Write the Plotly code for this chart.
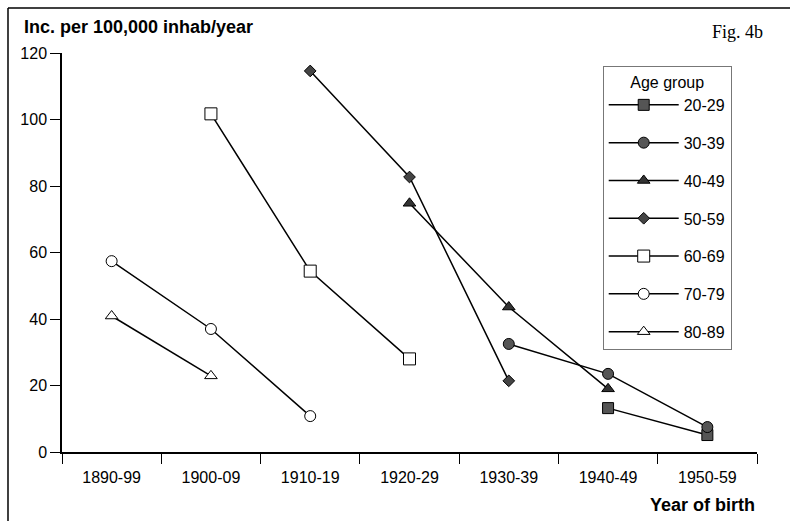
import plotly.graph_objects as go

categories = ["1890-99", "1900-09", "1910-19", "1920-29", "1930-39", "1940-49", "1950-59"]

groups = ["20-29", "30-39", "40-49", "50-59", "60-69", "70-79", "80-89"]
x_20_29 = ["1940-49", "1950-59"]
y_20_29 = [13.2, 5.1]
x_30_39 = ["1930-39", "1940-49", "1950-59"]
y_30_39 = [32.5, 23.5, 7.5]
x_40_49 = ["1920-29", "1930-39", "1940-49"]
y_40_49 = [74.8, 43.6, 19.0]
x_50_59 = ["1910-19", "1920-29", "1930-39"]
y_50_59 = [114.6, 82.7, 21.4]
x_60_69 = ["1900-09", "1910-19", "1920-29"]
y_60_69 = [101.7, 54.4, 28.0]
x_70_79 = ["1890-99", "1900-09", "1910-19"]
y_70_79 = [57.4, 37.0, 10.8]
x_80_89 = ["1890-99", "1900-09"]
y_80_89 = [40.9, 22.9]

series_x = [x_20_29, x_30_39, x_40_49, x_50_59, x_60_69, x_70_79, x_80_89]
series_y = [y_20_29, y_30_39, y_40_49, y_50_59, y_60_69, y_70_79, y_80_89]
symbols = ["square", "circle", "triangle-up", "diamond", "square", "circle", "triangle-up"]
sizes = [11, 11, 11, 9, 12, 11, 11]
fills = ["#555555", "#555555", "#333333", "#444444", "white", "white", "white"]

fig = go.Figure()
for g, xs, ys, sym, sz, fc in zip(groups, series_x, series_y, symbols, sizes, fills):
    marker = dict(symbol=sym, size=sz, color=fc, line=dict(color="black", width=1))
    fig.add_trace(go.Scatter(
        x=xs, y=ys, name=g, mode="lines+markers", legendgroup=g,
        line=dict(color="black", width=1.5), marker=marker,
    ))

font_family = "Liberation Sans, Arial, sans-serif"

fig.update_layout(
    width=790, height=521,
    margin=dict(l=62, r=33, t=53, b=69),
    paper_bgcolor="white", plot_bgcolor="white",
    font=dict(family=font_family, size=16, color="black"),
    showlegend=True,
    legend=dict(
        title=dict(text="Age group", font=dict(size=16), side="top center"),
        x=0.778, y=0.967, xanchor="left", yanchor="top",
        bgcolor="white", bordercolor="#777777", borderwidth=1,
        traceorder="grouped", tracegroupgap=14,
        font=dict(size=16), itemwidth=70,
    ),
    xaxis=dict(
        type="category", categoryorder="array", categoryarray=categories,
        range=[-0.5, 6.5], showgrid=False, zeroline=False,
        showline=True, linecolor="black", linewidth=1.5,
        ticks="outside", tickson="boundaries", ticklen=10, tickcolor="black",
        tickfont=dict(size=16), ticklabelstandoff=10,
    ),
    yaxis=dict(
        range=[0, 120], tickvals=[0, 20, 40, 60, 80, 100, 120],
        showgrid=False, zeroline=False,
        showline=True, linecolor="black", linewidth=1.5,
        ticks="outside", ticklen=10, tickcolor="black",
        tickfont=dict(size=16),
    ),
    shapes=[
        dict(type="line", xref="paper", yref="paper", x0=-0.0777, x1=1.05,
             y0=1.1128, y1=1.1128, line=dict(color="black", width=1.5)),
        dict(type="line", xref="paper", yref="paper", x0=-0.0777, x1=-0.0777,
             y0=1.1128, y1=-0.18, line=dict(color="black", width=1.5)),
    ],
    annotations=[
        dict(text="<b>Inc. per 100,000 inhab/year</b>", xref="paper", yref="paper",
             x=-0.0576, y=1.065, xanchor="left", yanchor="middle", showarrow=False,
             font=dict(size=18, family=font_family)),
        dict(text="Fig. 4b", xref="paper", yref="paper",
             x=1.0115, y=1.0526, xanchor="right", yanchor="middle", showarrow=False,
             font=dict(size=18, family="Liberation Serif, Times New Roman, serif")),
        dict(text="<b>Year of birth</b>", xref="paper", yref="paper",
             x=1.0, y=-0.133, xanchor="right", yanchor="middle", showarrow=False,
             font=dict(size=18, family=font_family)),
    ],
)

fig.write_html("out.html")
